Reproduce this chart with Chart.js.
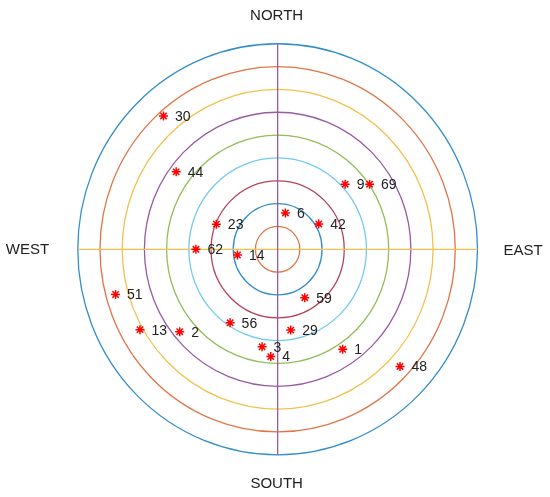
<!DOCTYPE html>
<html>
<head>
<meta charset="utf-8">
<script src="https://cdn.jsdelivr.net/npm/chart.js@4"></script>
<style>
html,body{margin:0;padding:0;background:#fff;}
#c{display:block;}
</style>
</head>
<body>
<canvas id="c" width="550" height="497"></canvas>
<script>
// Point labels and positions (plot units, east = +x, north = +y)
const pointLabels = ['30','44','23','62','14','6','42','9','69','59','56','29','2','51','13','3','4','1','48'];
const pointX = [-5.14,-4.57,-2.76,-3.68,-1.81,0.35,1.85,3.04,4.14,1.22,-2.14,0.59,-4.41,-7.30,-6.20,-0.70,-0.31,2.93,5.51];
const pointY = [5.84,3.39,1.10,0.00,-0.25,1.59,1.11,2.85,2.85,-2.12,-3.22,-3.54,-3.61,-1.98,-3.52,-4.27,-4.70,-4.38,-5.13];

// Range rings (radius in plot units) and their colours
const ringRadii = [1,2,3,4,5,6,7,8,9];
const ringColors = ['#E17547','#338ECA','#B54359','#71CBF1','#92BD59','#9859A5','#F1C14D','#E17547','#338ECA'];

// Compass labels
const compassLabels = ['NORTH','SOUTH','WEST','EAST'];

const ctxEl = document.getElementById('c');
const data = pointX.map((x,i)=>({x:x,y:pointY[i]}));

const polarGrid = {
  id:'polarGrid',
  beforeDatasetsDraw(chart){
    const {ctx, scales:{x,y}} = chart;
    const cx = x.getPixelForValue(0), cy = y.getPixelForValue(0);
    const R = ringRadii[ringRadii.length-1];
    ctx.save();
    ctx.lineWidth = 1.3;
    ringRadii.forEach((r,i)=>{
      const rx = x.getPixelForValue(r)-cx;
      const ry = cy - y.getPixelForValue(r);
      ctx.strokeStyle = ringColors[i];
      ctx.beginPath();
      ctx.ellipse(cx,cy,rx,ry,0,0,Math.PI*2);
      ctx.stroke();
    });
    // cross hair
    ctx.strokeStyle = '#F1C14D';
    ctx.beginPath();
    ctx.moveTo(x.getPixelForValue(-R),cy);
    ctx.lineTo(x.getPixelForValue(R),cy);
    ctx.stroke();
    ctx.strokeStyle = '#9859A5';
    ctx.beginPath();
    ctx.moveTo(cx,y.getPixelForValue(R));
    ctx.lineTo(cx,y.getPixelForValue(-R));
    ctx.stroke();
    // compass labels
    ctx.fillStyle = '#222222';
    ctx.font = '15px "Liberation Sans", Arial, sans-serif';
    ctx.textBaseline = 'middle';
    ctx.textAlign = 'center';
    ctx.fillText(compassLabels[0], cx-1, 16);
    ctx.fillText(compassLabels[1], cx-1, 484);
    ctx.fillText(compassLabels[2], 27.5, 250);
    ctx.fillText(compassLabels[3], 523, 250.5);
    ctx.restore();
  },
  afterDatasetsDraw(chart){
    const {ctx} = chart;
    const meta = chart.getDatasetMeta(0);
    ctx.save();
    ctx.fillStyle = '#222222';
    ctx.font = '14px "Liberation Sans", Arial, sans-serif';
    ctx.textBaseline = 'middle';
    ctx.textAlign = 'left';
    meta.data.forEach((pt,i)=>{
      ctx.fillText(pointLabels[i], pt.x+11.5, pt.y+1);
    });
    ctx.restore();
  }
};

new Chart(ctxEl,{
  type:'scatter',
  data:{datasets:[{
    data:data,
    pointStyle:'star',
    pointRadius:4.5,
    pointHoverRadius:4.5,
    borderColor:'#FF0000',
    backgroundColor:'#FF0000',
    pointBorderWidth:1.5
  }]},
  options:{
    responsive:false,
    animation:false,
    layout:{padding:0},
    plugins:{legend:{display:false},tooltip:{enabled:false}},
    scales:{
      x:{type:'linear',display:false,min:-277.7/22.7,max:(550-277.7)/22.7},
      y:{type:'linear',display:false,min:-(497-249.3)/23.4,max:249.3/23.4}
    }
  },
  plugins:[polarGrid]
});
</script>
</body>
</html>
